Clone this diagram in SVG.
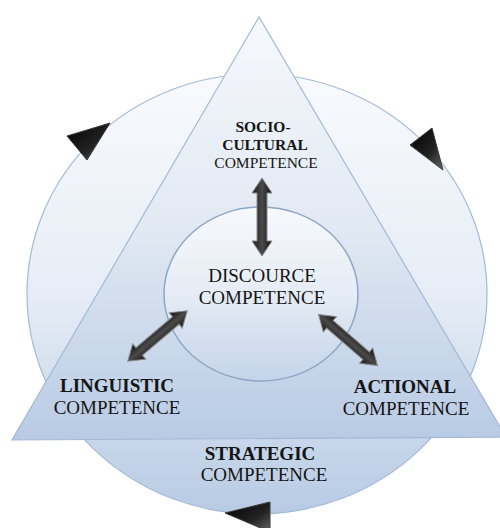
<svg xmlns="http://www.w3.org/2000/svg" width="500" height="528" viewBox="0 0 500 528">
<defs>
<linearGradient id="gOuter" x1="0" y1="0" x2="0" y2="1">
<stop offset="0" stop-color="#f8fafd"/>
<stop offset="0.5" stop-color="#e6edf6"/>
<stop offset="1" stop-color="#b8cbe4"/>
</linearGradient>
<linearGradient id="gTri" x1="0" y1="0" x2="0" y2="1">
<stop offset="0" stop-color="#f6f8fc"/>
<stop offset="0.5" stop-color="#e1e9f3"/>
<stop offset="1" stop-color="#b8cbe4"/>
</linearGradient>
<linearGradient id="gInner" x1="0" y1="0" x2="0" y2="1">
<stop offset="0" stop-color="#f7f9fc"/>
<stop offset="0.5" stop-color="#e5ecf5"/>
<stop offset="1" stop-color="#c4d4e9"/>
</linearGradient>
<linearGradient id="gArrow" x1="0" y1="0" x2="0" y2="1">
<stop offset="0" stop-color="#111"/>
<stop offset="0.5" stop-color="#4a4a4a"/>
<stop offset="1" stop-color="#1a1a1a"/>
</linearGradient>
<linearGradient id="gPtr" x1="0" y1="0" x2="1" y2="1">
<stop offset="0" stop-color="#000"/>
<stop offset="0.6" stop-color="#222"/>
<stop offset="1" stop-color="#666"/>
</linearGradient>
<path id="dblArrow" d="M -39,0 L -24,-10 L -24,-5 L 24,-5 L 24,-10 L 39,0 L 24,10 L 24,5 L -24,5 L -24,10 Z"/>
<style>
.outline { stroke: #a3b9d7; stroke-width: 1.2; }
.arrow { fill: url(#gArrow); stroke: #8a8a8a; stroke-width: 1; }
.ptr { fill: url(#gPtr); stroke: #3a3a3a; stroke-width: 1; }
.t { fill: #151515; text-anchor: middle; }
.b { font-weight: bold; }
.s19 { font-size: 19px; }
.s15 { font-size: 15.5px; }
</style>
</defs>

<g id="strategic">
<ellipse cx="257" cy="294" rx="230" ry="220" fill="url(#gOuter)" class="outline"/>
</g>

<g id="triangle">
<polygon points="259,17 12,440 506,437" fill="url(#gTri)" class="outline"/>
</g>

<g id="discourse">
<ellipse cx="261" cy="294" rx="97" ry="87" fill="url(#gInner)" stroke="#8ea6c6" stroke-width="1.5"/>
</g>

<g id="connectors">
<use href="#dblArrow" class="arrow" transform="translate(262,217) rotate(90)"/>
<use href="#dblArrow" class="arrow" transform="translate(157.5,336) rotate(-40.3)"/>
<use href="#dblArrow" class="arrow" transform="translate(348,340) rotate(40.9)"/>
<polygon class="ptr" points="67,136 110,123 87,160"/>
<polygon class="ptr" points="410,145 432,128 443,170"/>
<polygon class="ptr" points="225,513 270,502 270,532"/>
</g>

<g font-family="Liberation Serif, Times New Roman, DejaVu Serif, serif">
<g id="label-sociocultural">
<text class="t b s15" x="263" y="132">SOCIO-</text>
<text class="t b s15" x="265" y="150">CULTURAL</text>
<text class="t s15" x="266" y="168">COMPETENCE</text>
</g>
<g id="label-discourse">
<text class="t s19" x="262" y="282">DISCOURCE</text>
<text class="t s19" x="262" y="304">COMPETENCE</text>
</g>
<g id="label-linguistic">
<text class="t b s19" x="117" y="392">LINGUISTIC</text>
<text class="t s19" x="117" y="414">COMPETENCE</text>
</g>
<g id="label-actional">
<text class="t b s19" x="405" y="393">ACTIONAL</text>
<text class="t s19" x="406" y="415">COMPETENCE</text>
</g>
<g id="label-strategic">
<text class="t b s19" x="260" y="460">STRATEGIC</text>
<text class="t s19" x="264" y="481">COMPETENCE</text>
</g>
</g>
</svg>
